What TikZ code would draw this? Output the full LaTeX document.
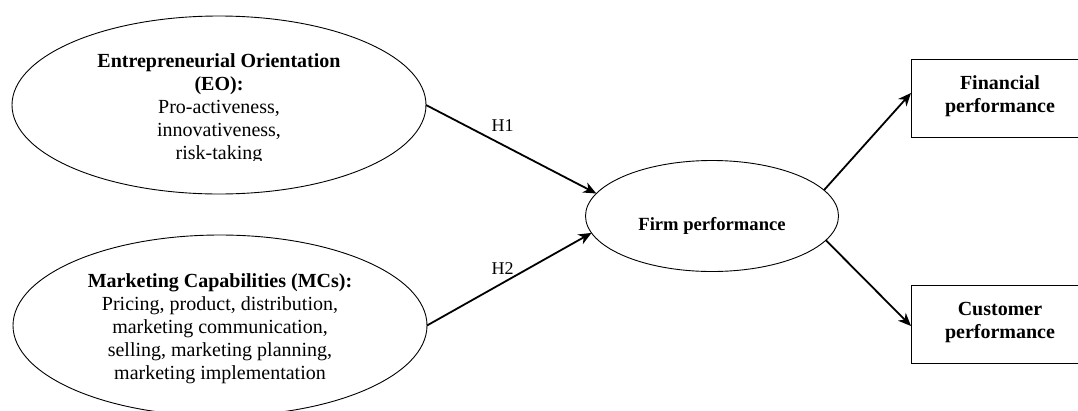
\documentclass[tikz,border=0pt]{standalone}
\usepackage{fontspec}
\setmainfont{Liberation Serif}
\usetikzlibrary{arrows.meta,shapes.geometric}
\begin{document}
\begin{tikzpicture}[x=1pt,y=-1pt,
  oval/.style={ellipse,draw,line width=0.9pt,inner sep=0pt,outer sep=0pt},
  ovaltext/.style={align=center,inner sep=0pt,font=\fontsize{20}{23}\selectfont},
  box/.style={rectangle,draw,line width=0.9pt,inner sep=0pt,outer sep=0pt,minimum width=178pt,minimum height=78pt,align=center,font=\fontsize{20}{23}\selectfont\bfseries,text depth=8pt},
  link/.style={line width=1.8pt,-{Stealth[length=13pt,width=11pt,inset=4pt]}},
  hyp/.style={font=\fontsize{18}{20}\selectfont,inner sep=0pt}]
\useasboundingbox (0,0) rectangle (1078,410);
\clip (0,0) rectangle (1078,410);
\node[oval,minimum width=414pt,minimum height=178pt] (eo) at (219,105) {};
\begin{scope}
  \clip (0,0) rectangle (1078,160.5);
  \node[ovaltext] (eotext) at ([yshift=-4pt]eo.center)
    {\textbf{Entrepreneurial Orientation}\\\textbf{(EO):}\\Pro-activeness,\\innovativeness,\\risk-taking};
\end{scope}
\node[oval,minimum width=414pt,minimum height=181pt] (mc) at (220,325.5) {};
\node[ovaltext] (mctext) at ([yshift=-3pt]mc.center)
  {\textbf{Marketing Capabilities (MCs):}\\Pricing, product, distribution,\\marketing communication,\\selling, marketing planning,\\marketing implementation};
\node[oval,minimum width=253pt,minimum height=111pt,font=\fontsize{18.6}{21}\selectfont\bfseries,text height=28pt,text depth=0pt] (firm) at (712,216) {Firm performance};
\node[box] (fin) at (1000,98) {Financial\\performance};
\node[box] (cust) at (1000,324) {Customer\\performance};
\draw[link] (eo.east) -- node[hyp,pos=0.45,above=12pt] (h1) {H1} (firm.169);
\draw[link] (mc.east) -- node[hyp,pos=0.46,above=8pt] (h2) {H2} (firm.188);
\draw[link] (firm.13) -- ([yshift=5pt]fin.west);
\draw[link] (firm.-12) -- ([yshift=-2pt]cust.west);
\end{tikzpicture}
\end{document}
